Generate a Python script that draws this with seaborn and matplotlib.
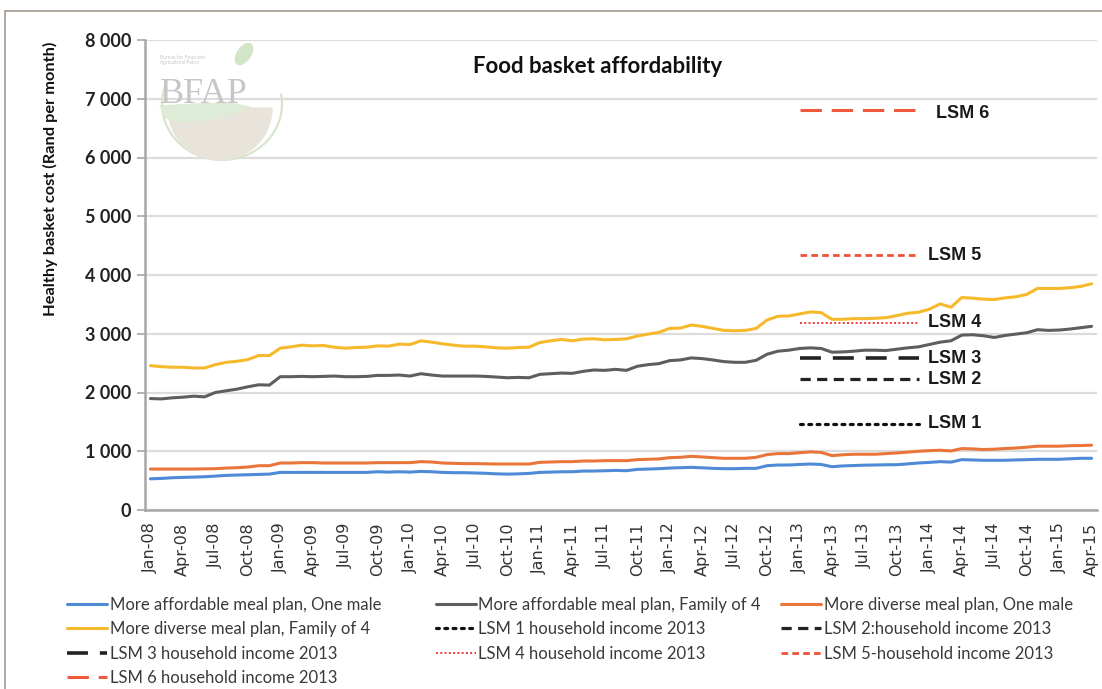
import numpy as np
import pandas as pd
import matplotlib
matplotlib.use("Agg")
import matplotlib.pyplot as plt
import seaborn as sns
from matplotlib.lines import Line2D
from matplotlib.patches import Ellipse, Rectangle, Polygon, Arc, Wedge

# ---------------- data ----------------
months = [d.strftime("%b-%y") for d in pd.date_range("2008-01-01", "2015-04-01", freq="MS")]

affordable_male = [531, 537, 549, 555, 560, 566, 577, 589, 595, 600, 606, 611,
                   640, 640, 640, 640, 640, 640, 640, 640, 640, 651, 645, 651,
                   645, 657, 651, 640, 635, 635, 630, 625, 615, 611, 615, 623,
                   640, 645, 651, 651, 663, 663, 668, 674, 669, 691, 697, 703,
                   714, 720, 726, 718, 709, 703, 703, 709, 709, 754, 766, 766,
                   775, 783, 775, 737, 750, 757, 763, 766, 770, 771, 785, 800,
                   810, 823, 815, 857, 852, 846, 846, 846, 852, 857, 863, 863,
                   863, 872, 880, 880]
affordable_family = [1897, 1891, 1909, 1920, 1937, 1926, 2000, 2029, 2057, 2097, 2131, 2126,
                     2269, 2269, 2274, 2269, 2274, 2280, 2269, 2269, 2274, 2291, 2291, 2297,
                     2280, 2320, 2297, 2280, 2280, 2280, 2280, 2274, 2263, 2251, 2257, 2251,
                     2309, 2320, 2331, 2326, 2360, 2383, 2377, 2394, 2377, 2446, 2474, 2491,
                     2543, 2554, 2589, 2577, 2554, 2526, 2514, 2514, 2549, 2651, 2703, 2720,
                     2749, 2760, 2749, 2686, 2691, 2703, 2720, 2720, 2714, 2737, 2760, 2777,
                     2817, 2857, 2880, 2977, 2983, 2966, 2937, 2971, 2994, 3017, 3069, 3057,
                     3063, 3080, 3103, 3126]
diverse_male = [697, 697, 697, 697, 697, 700, 703, 714, 720, 731, 754, 754,
                800, 800, 806, 806, 800, 800, 800, 800, 800, 806, 806, 806,
                806, 823, 817, 800, 794, 789, 789, 786, 783, 783, 783, 783,
                811, 817, 823, 823, 834, 834, 840, 840, 840, 857, 863, 869,
                891, 897, 914, 903, 891, 880, 880, 880, 897, 943, 960, 960,
                975, 989, 980, 926, 940, 949, 949, 949, 960, 971, 985, 1000,
                1010, 1017, 1005, 1046, 1040, 1029, 1035, 1046, 1055, 1069, 1086, 1086,
                1086, 1095, 1097, 1103]
diverse_family = [2457, 2440, 2430, 2430, 2417, 2417, 2474, 2514, 2531, 2560, 2629, 2629,
                  2754, 2777, 2806, 2794, 2800, 2771, 2754, 2766, 2771, 2794, 2789, 2823,
                  2817, 2880, 2857, 2829, 2806, 2789, 2789, 2777, 2760, 2754, 2766, 2771,
                  2851, 2880, 2903, 2880, 2909, 2914, 2897, 2903, 2914, 2960, 2994, 3023,
                  3091, 3097, 3149, 3126, 3091, 3057, 3051, 3057, 3091, 3234, 3297, 3303,
                  3337, 3371, 3360, 3246, 3246, 3257, 3257, 3263, 3274, 3309, 3349, 3366,
                  3417, 3509, 3451, 3617, 3606, 3589, 3583, 3611, 3629, 3669, 3771, 3771,
                  3771, 3783, 3806, 3851]

series_names = ["More affordable meal plan, One male", "More affordable meal plan, Family of 4",
                "More diverse meal plan, One male", "More diverse meal plan, Family of 4"]

lsm_labels = ["LSM 1", "LSM 2", "LSM 3", "LSM 4", "LSM 5", "LSM 6"]
lsm_legend = ["LSM 1 household income 2013", "LSM 2:household income 2013",
              "LSM 3 household income 2013", "LSM 4 household income 2013",
              "LSM 5-household income 2013", "LSM 6 household income 2013"]
lsm_values = [1464, 2224, 2582, 3188, 4340, 6808]
lsm_span = ["Jan-13", "Dec-13"]

ytick_values = [0, 1000, 2000, 3000, 4000, 5000, 6000, 7000, 8000]
ytick_labels = ["0", "1 000", "2 000", "3 000", "4 000", "5 000", "6 000", "7 000", "8 000"]
xtick_labels = months[::3]

# ---------------- styles ----------------
series_colors = ["#4E8AD6", "#5E5E5E", "#E8763A", "#F6B92C"]
lsm_styles = [
    dict(color="#111111", lw=2.3, dashes=(0.9, 1.7), dash_capstyle="round"),
    dict(color="#222222", lw=2.3, dashes=(3.2, 2.0)),
    dict(color="#222222", lw=2.6, dashes=(5.8, 3.3)),
    dict(color="#F0383A", lw=1.4, dashes=(1.0, 1.2)),
    dict(color="#F0503A", lw=2.0, dashes=(2.4, 1.5)),
    dict(color="#F05A3C", lw=2.2, dashes=(7.0, 3.2)),
]

sns.set_theme(style="white")
plt.rcParams['font.family'] = ['Lato', 'DejaVu Sans']

W, H = 1102, 689
fig = plt.figure(figsize=(W / 100, H / 100), dpi=100)
fig.patch.set_facecolor("white")

ax = fig.add_axes([145 / W, 1 - 510 / H, (1097 - 145) / W, 470 / H])
ax.set_facecolor("white")

idx = np.arange(len(months))
df = pd.DataFrame({"idx": idx,
                   series_names[0]: affordable_male,
                   series_names[1]: affordable_family,
                   series_names[2]: diverse_male,
                   series_names[3]: diverse_family})
long = df.melt(id_vars="idx", var_name="series", value_name="cost")
sns.lineplot(data=long, x="idx", y="cost", hue="series", hue_order=series_names,
             palette=series_colors, linewidth=2.2, ax=ax, legend=False, zorder=3)

# LSM reference lines
x0, x1 = months.index(lsm_span[0]), months.index(lsm_span[1])
lsm_handles = []
for lab, val, st in zip(lsm_labels, lsm_values, lsm_styles):
    ln, = ax.plot([x0, x1], [val, val], zorder=4, **st)
    lsm_handles.append(ln)
    dx = 1.6 if lab == "LSM 6" else 0.9
    dy = -60 if lab == "LSM 6" else 0
    ax.text(x1 + dx, val + dy, lab, ha="left", va="center", fontsize=13,
            fontweight="bold", family="Liberation Sans", color="#1A1A1A", zorder=5)

# axes styling
ax.set_xlim(-0.5, len(months) - 0.5)
ax.set_ylim(0, 8000)
ax.set_yticks(ytick_values)
ax.set_yticklabels(ytick_labels, fontsize=13, fontweight="bold", color="#222222")
ax.set_xticks(idx[::3])
ax.set_xticklabels(xtick_labels, rotation=90, fontsize=11.5, family="DejaVu Sans", color="#333333")
ax.set_xticks(np.arange(-0.5, len(months)), minor=True)
ax.tick_params(axis="x", which="major", length=0, pad=9)
ax.tick_params(axis="x", which="minor", length=6, width=1.0, color="#A6A6A6", direction="out")
ax.tick_params(axis="y", which="major", length=6, width=1.2, color="#A6A6A6", direction="out", pad=4, left=True)
ax.set_xlabel("")
ax.set_ylabel("")
for s in ["top", "right"]:
    ax.spines[s].set_visible(False)
for s in ["left", "bottom"]:
    ax.spines[s].set_color("#A6A6A6")
    ax.spines[s].set_linewidth(1.8)
ax.yaxis.grid(True, color="#DCDCDC", linewidth=1.6)
ax.set_axisbelow(True)

ax.text(0.475, 0.943, "Food basket affordability", transform=ax.transAxes,
        ha="center", va="center", fontsize=16, fontweight="bold", color="#111111")

fig.text(50 / W, 1 - 179 / H, "Healthy basket cost (Rand per month)", rotation=90,
         ha="center", va="center", fontsize=11.8, fontweight="bold", color="#111111")

# legend: three columns, row-major reading order
sh = [Line2D([], [], color=c, lw=2.2) for c in series_colors]
sh_all = sh + lsm_handles
labels_all = series_names + lsm_legend
columns = [([0, 3, 6, 9], 67), ([1, 4, 7], 436), ([2, 5, 8], 781)]
for items, xpx in columns:
    leg = fig.legend([sh_all[i] for i in items], [labels_all[i] for i in items],
                     ncol=1, loc="upper left", bbox_to_anchor=(xpx / W, 1 - 597 / H),
                     frameon=False, fontsize=12, handlelength=2.4, handletextpad=0.15,
                     labelspacing=0.5, borderpad=0, borderaxespad=0)
    for t in leg.get_texts():
        t.set_color("#3A3A3A")

# frame border around the figure
fig.add_artist(Rectangle((5 / W, -0.1), 1.2, 1 - 11 / H + 0.1, transform=fig.transFigure,
                         fill=False, edgecolor="#A39A8C", linewidth=1.2))

# BFAP watermark logo
lg = fig.add_axes([150 / W, 1 - 162 / H, 140 / W, 124 / H])
lg.set_xlim(150, 290)
lg.set_ylim(162, 38)
lg.axis("off")
lg.patch.set_alpha(0)
lg.add_patch(Arc((222, 104), 120, 112, theta1=-10, theta2=200, color="#D6E6CC", lw=1.6))
lg.add_patch(Ellipse((244, 54), 13, 24, angle=35, color="#D3E5C7"))
lg.add_patch(Wedge((220, 108), 52, 0, 180, color="#E8E4DC"))
lg.add_patch(Polygon([(160, 106), (195, 104), (230, 103), (250, 107), (232, 114), (205, 120), (180, 122), (166, 118)],
                     closed=True, color="#DEEBD6"))
lg.text(160, 103, "BFAP", family="Liberation Serif", fontsize=26, color="#C6C6C6", va="baseline")
lg.text(160, 60, "Bureau for Food and\nAgricultural Policy", fontsize=3.5, color="#C6C6C6", va="center")

fig.savefig("out.png", dpi=100, facecolor="white")
